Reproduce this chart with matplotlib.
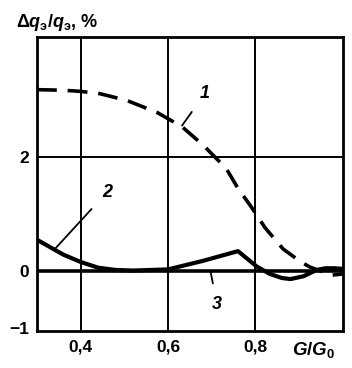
import matplotlib
matplotlib.use("Agg")
import matplotlib.pyplot as plt

# Curve 1 (dashed)
x1 = [0.30, 0.36, 0.40, 0.444, 0.506, 0.575, 0.632, 0.68, 0.733, 0.76, 0.79, 0.822, 0.863, 0.904, 0.925, 0.95, 0.975, 1.0]
y1 = [3.18, 3.17, 3.15, 3.11, 2.99, 2.78, 2.53, 2.21, 1.80, 1.45, 1.13, 0.76, 0.39, 0.16, 0.07, 0.0, -0.07, -0.05]
# Curve 2 (thick solid)
x2 = [0.30, 0.33, 0.36, 0.40, 0.44, 0.48, 0.52, 0.56, 0.60, 0.68, 0.76, 0.803, 0.833, 0.86, 0.88, 0.91, 0.94, 0.96, 0.98, 1.0]
y2 = [0.55, 0.42, 0.29, 0.16, 0.06, 0.02, 0.01, 0.02, 0.03, 0.18, 0.35, 0.08, -0.05, -0.12, -0.14, -0.09, 0.02, 0.05, 0.05, 0.04]
# Curve 3 (flat)
x3 = [0.30, 0.60, 0.80, 0.90, 0.95, 1.0]
y3 = [0.0, 0.0, 0.0, 0.0, 0.0, 0.0]

xticks = [0.4, 0.6, 0.8]
xticklabels = ["0,4", "0,6", "0,8"]
yticks = [-1, 0, 2]
yticklabels = ["\u22121", "0", "2"]

plt.rcParams['font.family'] = ['Liberation Sans', 'DejaVu Sans']
plt.rcParams['mathtext.fontset'] = 'custom'
plt.rcParams['mathtext.rm'] = 'Liberation Sans:bold'
plt.rcParams['mathtext.it'] = 'Liberation Sans:bold:italic'
plt.rcParams['mathtext.bf'] = 'Liberation Sans:bold'

fig = plt.figure(figsize=(3.52, 3.68), dpi=100)
ax = fig.add_axes([0.105, 0.1005, 0.869, 0.7985])
ax.set_xlim(0.3, 1.0)
ax.set_ylim(-1.05, 4.1)

for xv in xticks:
    ax.axvline(xv, color='black', lw=1.4, zorder=1)
for yv in [0, 2]:
    ax.axhline(yv, color='black', lw=1.4, zorder=1)

ax.plot(x1, y1, color='black', lw=2.6, dashes=(5.5, 3), zorder=3)
ax.plot(x2, y2, color='black', lw=3.0, zorder=3)
ax.plot(x3, y3, color='black', lw=2.6, zorder=3)

for s in ax.spines.values():
    s.set_linewidth(2.0)

ax.set_xticks(xticks)
ax.set_xticklabels(xticklabels, fontsize=12.5, fontweight='bold')
ax.set_yticks(yticks)
ax.set_yticklabels(yticklabels, fontsize=12.5, fontweight='bold')
ax.tick_params(length=0, pad=6)

# curve labels with leader lines
ax.annotate("1", xy=(0.632, 2.55), xytext=(0.685, 3.12), fontsize=13, fontweight='bold',
            fontstyle='italic', ha='center', va='center',
            arrowprops=dict(arrowstyle='-', color='black', lw=1.3, shrinkA=7, shrinkB=0))
ax.annotate("2", xy=(0.34, 0.38), xytext=(0.46, 1.38), fontsize=13, fontweight='bold',
            fontstyle='italic', ha='center', va='center',
            arrowprops=dict(arrowstyle='-', color='black', lw=1.3, shrinkA=8, shrinkB=0))
ax.annotate("3", xy=(0.697, 0.0), xytext=(0.712, -0.58), fontsize=13, fontweight='bold',
            fontstyle='italic', ha='center', va='center',
            arrowprops=dict(arrowstyle='-', color='black', lw=1.3, shrinkA=7, shrinkB=0))

fig.text(0.045, 0.94, r"$\mathrm{\Delta}\mathit{q}_{\mathrm{э}}/\mathit{q}_{\mathrm{э}}$, %",
         fontsize=13, fontweight='bold', ha='left', va='center')
fig.text(0.89, 0.048, r"$\mathit{G/G}_{\mathrm{0}}$", fontsize=13.5, ha='center', va='center')

fig.savefig("out.png", dpi=100)
